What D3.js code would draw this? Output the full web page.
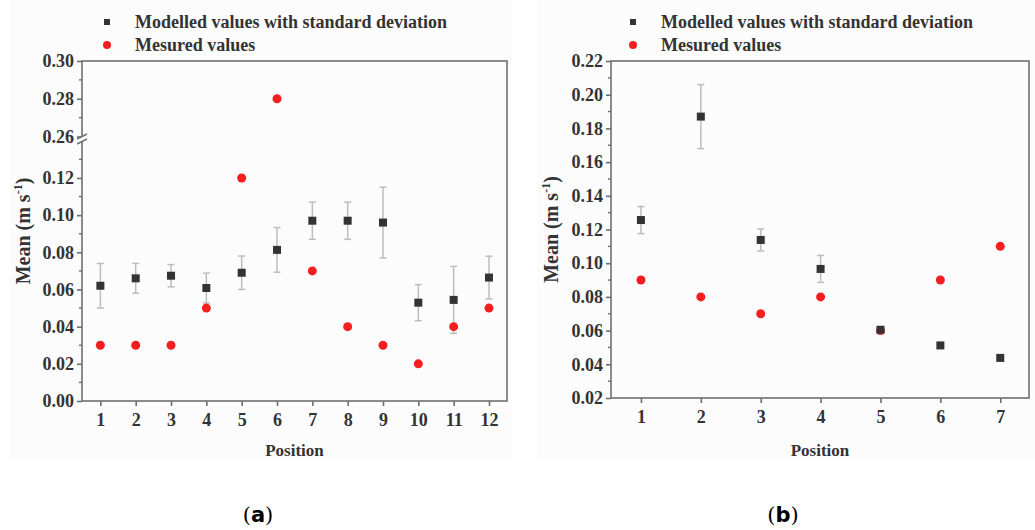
<!DOCTYPE html>
<html>
<head>
<meta charset="utf-8">
<script src="https://cdn.jsdelivr.net/npm/d3@7"></script>
<style>
  body { margin: 0; background: #fff; }
  svg { display: block; font-family: "Liberation Serif", "Times New Roman", serif; }
</style>
</head>
<body>
<svg id="chart" width="1035" height="530"></svg>
<script>
// panel (a)
const posA = [1, 2, 3, 4, 5, 6, 7, 8, 9, 10, 11, 12];
const modelA = [0.062, 0.066, 0.0674, 0.0608, 0.069, 0.0813, 0.097, 0.097, 0.096, 0.0529, 0.0544, 0.0664];
const sdA = [0.012, 0.008, 0.006, 0.008, 0.009, 0.012, 0.010, 0.010, 0.019, 0.0097, 0.018, 0.0115];
const measA = [0.03, 0.03, 0.03, 0.05, 0.12, 0.28, 0.07, 0.04, 0.03, 0.02, 0.04, 0.05];
const yTicksA = [0.00, 0.02, 0.04, 0.06, 0.08, 0.10, 0.12, 0.26, 0.28, 0.30];
const yMinorA = [0.01, 0.03, 0.05, 0.07, 0.09, 0.11, 0.13, 0.27, 0.29];

// panel (b)
const posB = [1, 2, 3, 4, 5, 6, 7];
const modelB = [0.1256, 0.187, 0.1138, 0.0966, 0.0605, 0.0512, 0.0438];
const sdB = [0.008, 0.019, 0.0065, 0.008, 0.001, 0.001, 0.001];
const measB = [0.09, 0.08, 0.07, 0.08, 0.06, 0.09, 0.11];
const yTicksB = [0.02, 0.04, 0.06, 0.08, 0.10, 0.12, 0.14, 0.16, 0.18, 0.20, 0.22];
const yMinorB = [0.03, 0.05, 0.07, 0.09, 0.11, 0.13, 0.15, 0.17, 0.19, 0.21];

const legendLabels = ["Modelled values with standard deviation", "Mesured values"];

const FRAME = "#6f6f6f";
const TEXT = "#333";
const SQUARE = "#333";
const DOT = "#f41e1e";
const ERR = "#bdbdbd";
const SERIF = "Liberation Serif";

const svg = d3.select("#chart");

function drawPanel(cfg) {
  const g = svg.append("g");

  g.append("rect")
    .attr("x", cfg.bg[0]).attr("y", 0)
    .attr("width", cfg.bg[1] - cfg.bg[0]).attr("height", 460)
    .attr("fill", "#fcfcfc");

  const x = d3.scaleLinear().domain(cfg.xDomain).range([cfg.left, cfg.right]);
  const y = d3.scaleLinear().domain(cfg.yDomain).range(cfg.yRange);
  const top = cfg.yRange[cfg.yRange.length - 1];
  const bottom = cfg.yRange[0];

  // frame
  g.append("rect")
    .attr("x", cfg.left).attr("y", top)
    .attr("width", cfg.right - cfg.left).attr("height", bottom - top)
    .attr("fill", "none").attr("stroke", FRAME).attr("stroke-width", 1.6);

  // y axis
  const yAxis = g.append("g").attr("transform", `translate(${cfg.left},0)`)
    .call(d3.axisLeft(y).tickValues(cfg.yTicks).tickFormat(d3.format(".2f")).tickSize(5).tickPadding(3));
  yAxis.select(".domain").remove();
  yAxis.selectAll("line").attr("stroke", FRAME).attr("stroke-width", 1.6);
  yAxis.selectAll("text").attr("fill", TEXT).style("font-size", "18px").style("font-weight", "bold")
    .style("font-family", SERIF);

  g.append("g").selectAll("line").data(cfg.yMinor).enter().append("line")
    .attr("x1", cfg.left - 3).attr("x2", cfg.left)
    .attr("y1", d => y(d)).attr("y2", d => y(d))
    .attr("stroke", FRAME).attr("stroke-width", 1.4);

  // x axis
  const xAxis = g.append("g").attr("transform", `translate(0,${bottom})`)
    .call(d3.axisBottom(x).tickValues(cfg.pos).tickFormat(d3.format("d")).tickSize(5).tickPadding(7));
  xAxis.select(".domain").remove();
  xAxis.selectAll("line").attr("stroke", FRAME).attr("stroke-width", 1.6);
  xAxis.selectAll("text").attr("fill", TEXT).style("font-size", "18px").style("font-weight", "bold")
    .style("font-family", SERIF);

  // axis break
  if (cfg.breakAt) {
    const by = cfg.breakAt;
    g.append("rect").attr("x", cfg.left - 2).attr("y", by - 2).attr("width", 4).attr("height", 4)
      .attr("fill", "#fcfcfc");
    [-2.5, 2.5].forEach(off => {
      g.append("line")
        .attr("x1", cfg.left - 5).attr("y1", by + off + 2.5)
        .attr("x2", cfg.left + 5).attr("y2", by + off - 2.5)
        .attr("stroke", FRAME).attr("stroke-width", 1.5);
    });
  }

  // error bars
  const eb = g.append("g");
  cfg.pos.forEach((p, i) => {
    const cx = x(p);
    const y1 = y(cfg.model[i] + cfg.sd[i]);
    const y0 = y(cfg.model[i] - cfg.sd[i]);
    eb.append("line").attr("x1", cx).attr("x2", cx).attr("y1", y1).attr("y2", y0)
      .attr("stroke", ERR).attr("stroke-width", 1.5);
    [y0, y1].forEach(yy => {
      eb.append("line").attr("x1", cx - 3.5).attr("x2", cx + 3.5).attr("y1", yy).attr("y2", yy)
        .attr("stroke", ERR).attr("stroke-width", 1.5);
    });
  });

  // measured
  g.append("g").selectAll("circle").data(cfg.meas).enter().append("circle")
    .attr("cx", (d, i) => x(cfg.pos[i])).attr("cy", d => y(d))
    .attr("r", 4.5).attr("fill", DOT);

  // modelled
  g.append("g").selectAll("rect").data(cfg.model).enter().append("rect")
    .attr("x", (d, i) => x(cfg.pos[i]) - 4).attr("y", d => y(d) - 4)
    .attr("width", 8).attr("height", 8).attr("fill", SQUARE);

  // legend
  const lg = g.append("g").attr("transform", `translate(${cfg.legendX},0)`);
  lg.append("rect").attr("x", -3).attr("y", 19).attr("width", 6).attr("height", 6).attr("fill", SQUARE);
  lg.append("circle").attr("cx", 0).attr("cy", 45).attr("r", 4).attr("fill", DOT);
  lg.selectAll("text").data(legendLabels).enter().append("text")
    .attr("x", 28).attr("y", (d, i) => 22 + i * 23).attr("dy", "0.35em")
    .attr("fill", TEXT).style("font-size", "18px").style("font-weight", "bold")
    .text(d => d);

  // axis titles
  const yl = g.append("text")
    .attr("transform", `translate(${cfg.yLabelX},${(top + bottom) / 2}) rotate(-90)`)
    .attr("text-anchor", "middle").attr("fill", TEXT)
    .style("font-size", "20px").style("font-weight", "bold");
  yl.append("tspan").text("Mean (m s");
  yl.append("tspan").attr("dy", "-8").style("font-size", "12px").text("-1");
  yl.append("tspan").attr("dy", "8").text(")");

  g.append("text")
    .attr("x", (cfg.left + cfg.right) / 2).attr("y", 456)
    .attr("text-anchor", "middle").attr("fill", TEXT)
    .style("font-size", "17px").style("font-weight", "bold")
    .text("Position");

  const cap = g.append("text")
    .attr("x", cfg.capX).attr("y", 522)
    .attr("text-anchor", "middle").attr("fill", "#000")
    .style("font-size", "21px").attr("font-family", "DejaVu Serif");
  cap.append("tspan").text("(");
  cap.append("tspan").style("font-weight", "bold").attr("font-family", "DejaVu Sans").text(cfg.letter);
  cap.append("tspan").text(")");
}

drawPanel({
  pos: posA, model: modelA, sd: sdA, meas: measA,
  yTicks: yTicksA, yMinor: yMinorA,
  xDomain: [0.48, 12.51], left: 82, right: 507,
  yDomain: [0, 0.138, 0.26, 0.30], yRange: [401, 144.5, 136.5, 61],
  breakAt: 139,
  bg: [10, 512], legendX: 107, yLabelX: 30, capX: 258, letter: "a"
});

drawPanel({
  pos: posB, model: modelB, sd: sdB, meas: measB,
  yTicks: yTicksB, yMinor: yMinorB,
  xDomain: [0.5, 7.48], left: 611, right: 1029,
  yDomain: [0.02, 0.22], yRange: [398, 61],
  breakAt: null,
  bg: [537, 1035], legendX: 633, yLabelX: 558, capX: 783, letter: "b"
});
</script>
</body>
</html>
